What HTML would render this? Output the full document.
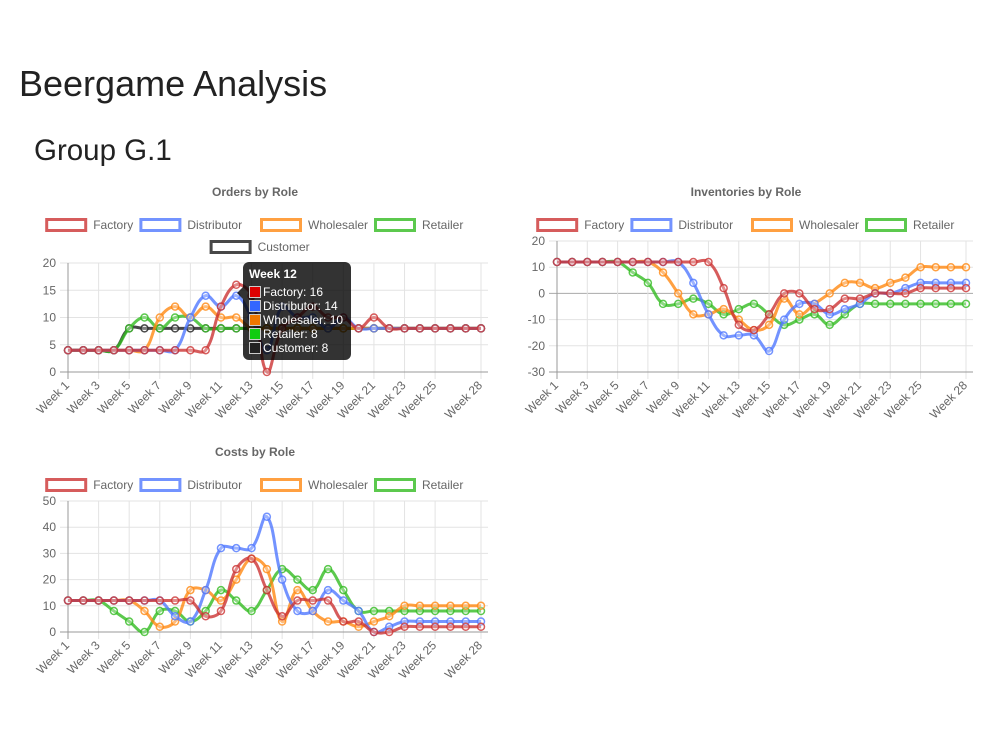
<!DOCTYPE html>
<html><head><meta charset="utf-8">
<style>
body{margin:0;background:#fff;width:1000px;height:750px;overflow:hidden;font-family:"Liberation Sans",Arial,sans-serif;}
h1{position:absolute;left:19px;top:63px;margin:0;font-weight:400;font-size:36px;color:#222;}
h2{position:absolute;left:34px;top:134px;margin:0;font-weight:400;font-size:29.5px;color:#222;}
svg{position:absolute;left:0;top:0;}
</style></head><body>
<h1>Beergame Analysis</h1>
<h2>Group G.1</h2>
<svg id="s" width="1000" height="750"></svg>
<script>
const weeks=[];for(let i=1;i<=28;i++)weeks.push('Week '+i);
const shownLabels=[1,3,5,7,9,11,13,15,17,19,21,23,25,28];
const roles=['Factory','Distributor','Wholesaler','Retailer','Customer'];
const ordersFactory=[4,4,4,4,4,4,4,4,4,4,12,16,14,0,8,10,12,10,10,8,10,8,8,8,8,8,8,8];
const ordersDistributor=[4,4,4,4,4,4,4,4,10,14,12,14,10,4,12,10,10,8,10,8,8,8,8,8,8,8,8,8];
const ordersWholesaler=[4,4,4,4,4,4,10,12,10,12,10,10,8,8,8,8,8,8,8,8,8,8,8,8,8,8,8,8];
const ordersRetailer=[4,4,4,4,8,10,8,10,10,8,8,8,8,8,8,8,8,8,8,8,8,8,8,8,8,8,8,8];
const ordersCustomer=[4,4,4,4,8,8,8,8,8,8,8,8,8,8,8,8,8,8,8,8,8,8,8,8,8,8,8,8];
const invFactory=[12,12,12,12,12,12,12,12,12,12,12,2,-12,-14,-8,0,0,-6,-6,-2,-2,0,0,0,2,2,2,2];
const invDistributor=[12,12,12,12,12,12,12,12,12,4,-8,-16,-16,-16,-22,-10,-4,-4,-8,-6,-4,0,0,2,4,4,4,4];
const invWholesaler=[12,12,12,12,12,12,12,8,0,-8,-8,-6,-10,-14,-12,-2,-8,-4,0,4,4,2,4,6,10,10,10,10];
const invRetailer=[12,12,12,12,12,8,4,-4,-4,-2,-4,-8,-6,-4,-8,-12,-10,-8,-12,-8,-4,-4,-4,-4,-4,-4,-4,-4];
const costFactory=[12,12,12,12,12,12,12,12,12,6,8,24,28,16,6,12,12,12,4,4,0,0,2,2,2,2,2,2];
const costDistributor=[12,12,12,12,12,12,12,6,4,16,32,32,32,44,20,8,8,16,12,8,0,2,4,4,4,4,4,4];
const costWholesaler=[12,12,12,12,12,8,2,4,16,16,12,20,28,24,4,16,8,4,4,2,4,6,10,10,10,10,10,10];
const costRetailer=[12,12,12,8,4,0,8,8,4,8,16,12,8,16,24,20,16,24,16,8,8,8,8,8,8,8,8,8];
const yTicksOrders=[0,5,10,15,20];
const yTicksInv=[-30,-20,-10,0,10,20];
const yTicksCost=[0,10,20,30,40,50];
const colors={Factory:'rgba(204,51,51,0.8)',Distributor:'rgba(80,120,255,0.8)',Wholesaler:'rgba(255,136,17,0.8)',Retailer:'rgba(51,187,34,0.8)',Customer:'rgba(40,40,40,0.85)'};
const NS='http://www.w3.org/2000/svg';
const svg=document.getElementById('s');
function el(t,a,p){const e=document.createElementNS(NS,t);for(const k in a)e.setAttribute(k,a[k]);(p||svg).appendChild(e);return e;}
function spline(pts){
  let d='M'+pts[0][0]+','+pts[0][1];
  const T=0.4;const cps=[];
  for(let i=0;i<pts.length;i++){
    const p=pts[Math.max(0,i-1)],c=pts[i],n=pts[Math.min(pts.length-1,i+1)];
    const d01=Math.hypot(c[0]-p[0],c[1]-p[1]),d12=Math.hypot(n[0]-c[0],n[1]-c[1]);
    let fa=d01/(d01+d12||1),fb=d12/(d01+d12||1);fa=T*fa;fb=T*fb;
    cps.push([[c[0]-fa*(n[0]-p[0]),c[1]-fa*(n[1]-p[1])],[c[0]+fb*(n[0]-p[0]),c[1]+fb*(n[1]-p[1])]]);
  }
  for(let i=1;i<pts.length;i++){const a=cps[i-1][1],b=cps[i][0];d+=' C'+a[0]+','+a[1]+' '+b[0]+','+b[1]+' '+pts[i][0]+','+pts[i][1];}
  return d;
}
function chart(cfg){
  const g=el('g',{});
  
  
  const {x0,x1,top,bot,ymin,ymax,cx}=cfg;
  const X=i=>x0+(x1-x0)*i/(weeks.length-1);
  const Y=v=>bot-(v-ymin)/(ymax-ymin)*(bot-top);
  const t=el('text',{x:cx,y:cfg.titleY,'text-anchor':'middle','font-size':12,'font-weight':'bold',fill:'#666'},g);
  t.textContent=cfg.title;
  
  
  const rows=cfg.legendRows;
  rows.forEach((row,ri)=>{
    const widths=row.map(r=>48+r.length*6.6);
    let tot=widths.reduce((a,b)=>a+b,0)-10;let x=cx-tot/2;
    row.forEach((r,k)=>{
      const lg=el('g',{},g);
      
      
      const y=cfg.legendY+ri*22;
      el('rect',{x:x+1.5,y:y-5.5,width:39,height:11,fill:'#fff',stroke:colors[r],'stroke-width':3},lg);
      const tx=el('text',{x:x+48,y:y+4,'font-size':12,fill:'#666'},lg);tx.textContent=r;
      x+=widths[k];
    });
  });
  cfg.yTicks.forEach(v=>{
    el('line',{x1:x0-8,x2:x1+7,y1:Y(v),y2:Y(v),stroke:v===0&&ymin<0?'#aaa':'#e3e3e3','stroke-width':1},g);
    const tx=el('text',{x:x0-12,y:Y(v)+4,'text-anchor':'end','font-size':12,fill:'#666'},g);tx.textContent=v;
  });
  shownLabels.forEach(w=>{
    const x=X(w-1);
    el('line',{x1:x,x2:x,y1:top,y2:bot+7,stroke:'#e3e3e3'},g);
    const tx=el('text',{x:x+2,y:bot+14,'text-anchor':'end','font-size':12,fill:'#666',transform:`rotate(-45 ${x+2} ${bot+14})`},g);tx.textContent=weeks[w-1];
  });
  el('line',{x1:x0,x2:x0,y1:top,y2:bot+7,stroke:'#999'},g);
  el('line',{x1:x0-8,x2:x1+7,y1:bot,y2:bot,stroke:'#999'},g);
  cfg.series.forEach(([name,arr])=>{
    const sg=el('g',{},g);
    
    
    const pts=arr.map((v,i)=>[X(i),Y(v)]);
    el('path',{d:spline(pts),fill:'none',stroke:colors[name],'stroke-width':3},sg);
    pts.forEach(p=>{
      const c=el('circle',{cx:p[0],cy:p[1],r:3.5,fill:'rgba(255,255,255,0.3)',stroke:colors[name],'stroke-width':1.5},sg);
      
      
    });
  });
  return g;
}
chart({name:'orders-chart',title:'Orders by Role',titleY:196,cx:255,legendY:225,legendRows:[['Factory','Distributor','Wholesaler','Retailer'],['Customer']],x0:68,x1:481,top:263,bot:372,ymin:0,ymax:20,yTicks:yTicksOrders,
 series:[['Customer',ordersCustomer],['Retailer',ordersRetailer],['Wholesaler',ordersWholesaler],['Distributor',ordersDistributor],['Factory',ordersFactory]]});
chart({name:'inventories-chart',title:'Inventories by Role',titleY:196,cx:746,legendY:225,legendRows:[['Factory','Distributor','Wholesaler','Retailer']],x0:557,x1:966,top:241,bot:372,ymin:-30,ymax:20,yTicks:yTicksInv,
 series:[['Retailer',invRetailer],['Wholesaler',invWholesaler],['Distributor',invDistributor],['Factory',invFactory]]});
chart({name:'costs-chart',title:'Costs by Role',titleY:456,cx:255,legendY:485,legendRows:[['Factory','Distributor','Wholesaler','Retailer']],x0:68,x1:481,top:501,bot:632,ymin:0,ymax:50,yTicks:yTicksCost,
 series:[['Retailer',costRetailer],['Wholesaler',costWholesaler],['Distributor',costDistributor],['Factory',costFactory]]});
const tg=el('g',{});


el('path',{d:'M243,287 L237,293 L243,299 Z',fill:'rgba(0,0,0,0.8)'},tg);
el('rect',{x:243,y:262,width:108,height:98,rx:6,fill:'rgba(0,0,0,0.8)'},tg);
const tt=el('text',{x:249,y:278,'font-size':12,'font-weight':'bold',fill:'#fff'},tg);tt.textContent='Week 12';
const tipVals=[16,14,10,8,8];
const tipCols=['#dd0000','#3366ff','#ee7700','#11cc11','#222'];
roles.forEach((r,i)=>{
  const y=286+i*14;
  el('rect',{x:249.5,y:y+0.5,width:11,height:11,fill:tipCols[i],stroke:'#ccc','stroke-width':1},tg);
  const t=el('text',{x:263,y:y+10,'font-size':12,fill:'#fff'},tg);t.textContent=r+': '+tipVals[i];
});
</script>
</body></html>
